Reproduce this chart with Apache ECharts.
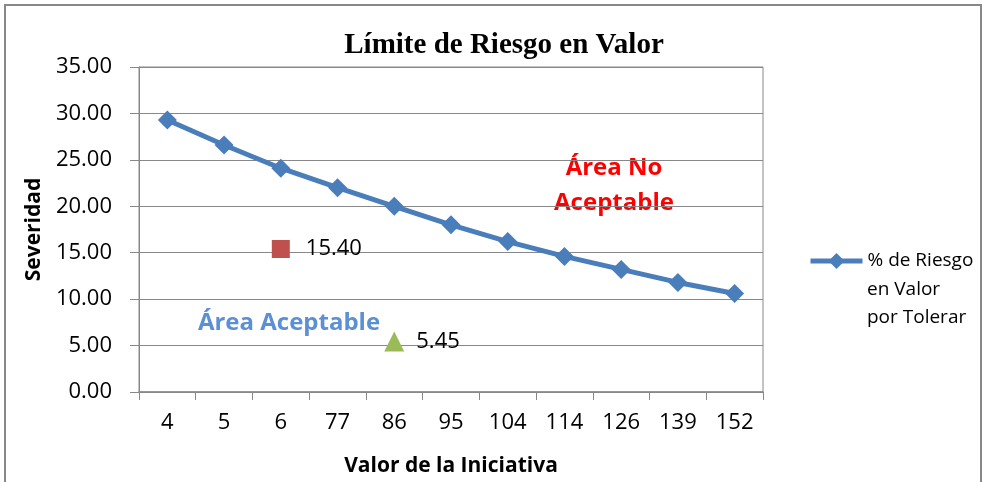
<!DOCTYPE html>
<html>
<head>
<meta charset="utf-8">
<script src="https://cdn.jsdelivr.net/npm/echarts@6/dist/echarts.min.js"></script>
<style>
  html, body { margin: 0; padding: 0; background: #fff; }
  #chart { width: 987px; height: 482px; }
</style>
</head>
<body>
<div id="chart"></div>
<script>
// categorias del eje X
const categories = ["4", "5", "6", "77", "86", "95", "104", "114", "126", "139", "152"];
// % de riesgo en valor por tolerar
const riskValues = [29.3, 26.6, 24.1, 22.0, 20.0, 18.0, 16.2, 14.6, 13.2, 11.8, 10.6];
const seriesName = "% de Riesgo\nen Valor\npor Tolerar";
// puntos sueltos
const redPoint = ["6", 15.40];
const greenPoint = ["86", 5.45];

const font = "'Open Sans', 'Liberation Sans', sans-serif";
const chart = echarts.init(document.getElementById("chart"));

const pointLabel = (dist) => ({
  show: true,
  position: "right",
  distance: dist,
  fontFamily: font,
  fontSize: 22,
  color: "#000",
  formatter: (p) => p.value[1].toFixed(2),
});

const nameStyle = {
  fontFamily: font,
  fontWeight: "bold",
  fontSize: 21,
  color: "#000",
};

const option = {
  animation: false,
  backgroundColor: "#fff",
  title: {
    text: "Límite de Riesgo en Valor",
    left: 499,
    textAlign: "center",
    top: 26,
    textStyle: {
      fontFamily: "'Liberation Serif', serif",
      fontWeight: "bold",
      fontSize: 29,
      color: "#000",
    },
  },
  grid: {
    left: 139,
    right: 224,
    top: 67,
    bottom: 88,
    show: true,
    borderColor: "#888",
    borderWidth: 1,
  },
  legend: {
    data: [seriesName],
    left: 808,
    top: 247,
    padding: 0,
    itemWidth: 52,
    itemHeight: 20,
    formatter: (name) => name.split("\n")[0],
    lineStyle: { width: 5 },
    textStyle: {
      fontFamily: font,
      fontSize: 19,
      color: "#000",
      lineHeight: 28,
    },
  },
  xAxis: {
    type: "category",
    data: categories,
    boundaryGap: true,
    name: "Valor de la Iniciativa",
    nameLocation: "middle",
    nameGap: 64,
    nameTextStyle: nameStyle,
    axisLine: { lineStyle: { color: "#888", width: 1.5 } },
    axisTick: { show: true, length: 8, lineStyle: { color: "#888" } },
    axisLabel: {
      fontFamily: font,
      fontSize: 22,
      color: "#000",
      margin: 20,
    },
  },
  yAxis: {
    type: "value",
    min: 0,
    max: 35,
    interval: 5,
    name: "Severidad",
    nameLocation: "middle",
    nameGap: 94,
    nameRotate: 90,
    nameTextStyle: nameStyle,
    axisLine: { show: true, lineStyle: { color: "#888" } },
    axisTick: { show: true, length: 9, lineStyle: { color: "#888" } },
    splitLine: { lineStyle: { color: "#888", width: 1 } },
    axisLabel: {
      fontFamily: font,
      fontSize: 22,
      color: "#000",
      margin: 27,
      formatter: (v) => v.toFixed(2),
    },
  },
  series: [
    {
      name: seriesName,
      type: "line",
      data: riskValues,
      color: "#4a7ebb",
      symbol: "diamond",
      symbolSize: 19,
      lineStyle: { width: 5, color: "#4a7ebb" },
      itemStyle: { color: "#4a7ebb" },
      z: 3,
    },
    {
      name: "rojo",
      type: "scatter",
      data: [redPoint],
      symbol: "rect",
      symbolSize: 18,
      itemStyle: { color: "#c0504d", opacity: 1 },
      label: pointLabel(16),
    },
    {
      name: "verde",
      type: "scatter",
      data: [greenPoint],
      symbol: "triangle",
      symbolSize: 20,
      itemStyle: { color: "#9bbb59", opacity: 1 },
      label: pointLabel(12),
    },
  ],
  graphic: [
    {
      type: "rect",
      shape: { x: 5, y: 5, width: 976, height: 490 },
      style: { fill: null, stroke: "#888", lineWidth: 2 },
      silent: true,
    },
    {
      type: "text",
      x: 867,
      y: 276,
      style: {
        text: "en Valor\npor Tolerar",
        fill: "#000",
        fontFamily: font,
        fontSize: 19,
        lineHeight: 28,
      },
    },
    {
      type: "text",
      x: 614,
      y: 186,
      style: {
        text: "Área No\nAceptable",
        fill: "#ff0000",
        fontFamily: font,
        fontWeight: "bold",
        fontSize: 24,
        lineHeight: 35,
        align: "center",
        verticalAlign: "middle",
      },
    },
    {
      type: "text",
      x: 289,
      y: 323,
      style: {
        text: "Área Aceptable",
        fill: "#5b8fd6",
        fontFamily: font,
        fontWeight: "bold",
        fontSize: 24,
        align: "center",
        verticalAlign: "middle",
      },
    },
  ],
};

chart.setOption(option);
</script>
</body>
</html>
